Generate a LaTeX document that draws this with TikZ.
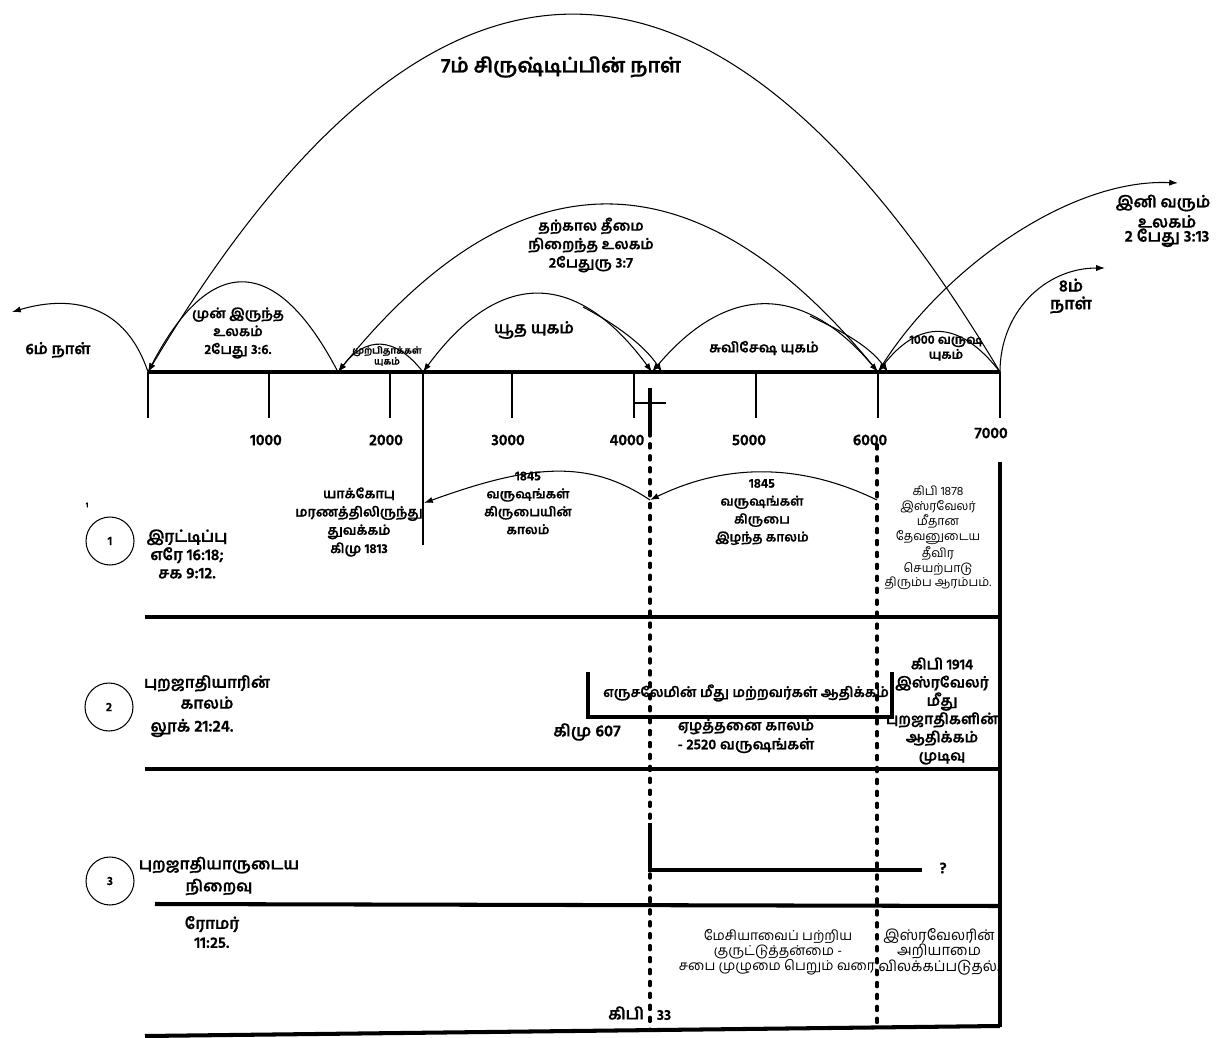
\documentclass[tikz,border=0pt]{standalone}
\usepackage{fontspec}
\setmainfont[Script=Tamil, BoldFeatures={FakeBold=0.6}]{Hind Madurai}
\usetikzlibrary{arrows.meta}
\newcommand{\tsz}[2]{\bfseries\fontsize{#1}{#2}\selectfont}
\newcommand{\rsz}[2]{\mdseries\fontsize{#1}{#2}\selectfont}

\begin{document}
\begin{tikzpicture}[x=0.02cm, y=-0.02cm, line width=0.6pt,
  every node/.style={inner sep=0pt, align=center, font=\tsz{8}{10.2}},
  hump/.style={-{Latex[length=5pt,width=3.5pt]}},
  humpback/.style={{Latex[length=5pt,width=3.5pt]}-},
  humpboth/.style={{Latex[length=5pt,width=3.5pt]}-{Latex[length=5pt,width=3.5pt]}},
  rule/.style={line width=2.3pt},
  dots/.style={line width=2.1pt, line cap=round, dash pattern=on 2.2pt off 4.6pt},
  num/.style={circle, draw, line width=0.6pt, minimum size=0.96cm, font=\tsz{7}{8}}]

\useasboundingbox (0,0) rectangle (1225,1038);

% time axis
\foreach \n/\x in {0/148,1/269,2/390,3/512,4/634,5/756,6/878,7/1000}
  \coordinate (t\n) at (\x,372);
\coordinate (flood) at (338,372);
\coordinate (jtop) at (423,372);
\coordinate (jbot) at (423,545);
\coordinate (jmid) at (424,503);
\coordinate (cx) at (652,372);
\coordinate (cx2) at (662,372);
\coordinate (g2) at (888,372);
\coordinate (jsplit) at (583,307);
\coordinate (gsplit) at (810,316);
\coordinate (six) at (12,312);
\coordinate (fut) at (1178,183);
\coordinate (eight) at (1105,268);

\foreach \n in {0,...,7}
  \draw (t\n) -- ++(0,46);
\draw (jtop) -- (jbot);
\draw[rule] (t0) -- (t7);

\foreach \n/\x/\y in {1/266/440,2/386/440,3/508/440,4/627/440,5/749/440,6/870/440,7/991/433}
  \node[font=\tsz{9}{10}] (y\n) at (\x,\y) {\n000};

% arcs over the axis
\draw[hump] (t7) .. controls +(-284,-476) and +(284,-476) .. (t0);
\draw[hump] (flood) .. controls +(-62,-119) and +(62,-119) .. (t0);
\draw[hump] (jtop) .. controls +(-28,-36) and +(28,-36) .. (flood);
\draw[hump] (t6) .. controls +(-180,-223) and +(180,-223) .. (flood);
\draw[humpboth] (cx) .. controls +(-76,-103) and +(76,-103) .. (jtop);
\draw[hump] (jsplit) .. controls +(25,13) and +(-20,-30) .. (cx2);
\draw[humpboth] (t6) .. controls +(-75,-89) and +(75,-89) .. (cx);
\draw[hump] (gsplit) .. controls +(25,12) and +(-20,-28) .. (g2);
\draw[hump] (t7) .. controls +(-41,-53) and +(41,-53) .. (t6);
\draw[hump] (t6) .. controls +(60,-100) and +(-110,-5) .. (fut);
\draw[hump] (t7) .. controls +(0,-60) and +(-60,0) .. (eight);
\draw[hump] (t0) .. controls +(-25,-75) and +(50,-15) .. (six);

\node[font=\tsz{11.5}{13}] (title) at (561,67) {7ம் சிருஷ்டிப்பின் நாள்};
\node[font=\tsz{8.2}{10.5}] (nowworld) at (591,245) {தற்கால தீமை\\நிறைந்த உலகம்\\2பேதுரு 3:7};
\node[font=\tsz{7.8}{10.2}] (oldworld) at (238,333) {முன் இருந்த\\உலகம்\\2பேது 3:6.};
\node[font=\tsz{8.8}{10}] (sixth) at (58,350) {6ம் நாள்};
\node[font=\tsz{5.4}{6.2}] (patri) at (387,356) {முற்பிதாக்கள்\\யுகம்};
\node[font=\tsz{9}{11}] (jewish) at (534,330) {யூத யுகம்};
\node (gospel) at (764,348) {சுவிசேஷ யுகம்};
\node[font=\tsz{7.2}{8.5}] (millen) at (946,348) {1000 வருஷ\\யுகம்};
\node[font=\tsz{9}{10}] (newworld) at (1163,203) {இனி வரும்};
\node[font=\tsz{9.2}{8}] (newref) at (1167,231) {உலகம்\\2 பேது 3:13};
\node[font=\tsz{9.5}{10.2}] (eighth) at (1071,296) {8ம்\\நாள்};

% cross and the two dotted marks
\coordinate (crtop) at (650,388);
\coordinate (crbot) at (650,432);
\coordinate (crl) at (634,403);
\coordinate (crr) at (666,403);
\coordinate (d1) at (650,1030);
\coordinate (d2top) at (877,445);
\coordinate (d2) at (877,1030);
\draw[line width=1.8pt] (crtop) -- (crbot);
\draw[line width=1.4pt] (crl) -- (crr);
\draw[dots] (crbot) -- (d1);
\draw[dots] (d2top) -- (d2);

% rows
\coordinate (r1l) at (145,617);  \coordinate (r1r) at (1000,617);
\coordinate (r2l) at (145,769);  \coordinate (r2r) at (1000,769);
\coordinate (r3l) at (155,904);  \coordinate (r3r) at (1000,906);
\coordinate (r4l) at (145,1036); \coordinate (r4r) at (1000,1026);
\coordinate (edge) at (1000,462);
\draw[rule] (r1l) -- (r1r);
\draw[rule] (r2l) -- (r2r);
\draw[rule] (r3l) -- (r3r);
\draw[rule] (r4l) -- (r4r);
\draw[rule] (edge) -- (1000,1027);

% row 1
\coordinate (g1) at (650,500);
\coordinate (g1878) at (877,500);
\draw[hump] (g1) .. controls +(-60,-40) and +(110,-40) .. (jmid);
\draw[humpback] (g1) .. controls +(76,-37) and +(-76,-37) .. (g1878);
\node[font=\tsz{4}{5}] (one) at (87,505) {1};
\node[num] (c1) at (110,541) {1};
\node[font=\tsz{9}{10.4}] (double) at (187,554) {இரட்டிப்பு\\எரே 16:18;\\சக 9:12.};
\node[font=\tsz{7.6}{10.4}] (jacob) at (359,522) {யாக்கோபு\\மரணத்திலிருந்து\\துவக்கம்\\கிமு 1813};
\node[font=\tsz{7.3}{10.2}] (grace) at (528,503) {{\tsz{7.5}{10.2}1845}\\வருஷங்கள்\\கிருபையின்\\காலம்};
\node[font=\tsz{7.3}{10.2}] (nograce) at (762,512) {{\tsz{7.5}{10.2}1845}\\வருஷங்கள்\\கிருபை\\இழந்த காலம்};
\node[font=\rsz{7}{8.5}] (y1878) at (938,538) {கிபி 1878\\இஸ்ரவேலர்\\மீதான\\தேவனுடைய\\தீவிர\\செயற்பாடு\\திரும்ப ஆரம்பம்.};

% row 2
\coordinate (b1) at (588,672);
\coordinate (b2) at (892,672);
\draw[line width=1.8pt] (b1) |- (892,717) -- (b2);
\node[num] (c2) at (109,707) {2};
\node[font=\tsz{9}{11.9}] (gentiles) at (207,692) {புறஜாதியாரின்\\காலம்};
\node[font=\tsz{9.3}{10}] (luke) at (192,728) {லூக் 21:24.};
\node[font=\tsz{7.9}{9}] (jerus) at (746,693) {எருசலேமின் மீது மற்றவர்கள் ஆதிக்கம்};
\node[font=\tsz{9.3}{10}] (bc607) at (587,732) {கிமு 607};
\node[font=\tsz{8.3}{10.8}] (seven) at (746,736) {ஏழத்தனை காலம்\\- 2520 வருஷங்கள்};
\node[font=\tsz{8.4}{10.4}] (y1914) at (942,711) {கிபி 1914\\இஸ்ரவேலர்\\மீது\\புறஜாதிகளின்\\ஆதிக்கம்\\முடிவு};

% row 3
\coordinate (l1) at (650,823);
\coordinate (l2) at (922,870);
\draw[line width=1.8pt] (l1) |- (l2);
\node[font=\tsz{9}{10}] (question) at (943,868) {?};
\node[num] (c3) at (110,881) {3};
\node[font=\tsz{9}{12.5}] (fullness) at (219,876) {புறஜாதியாருடைய\\நிறைவு};
\node[font=\tsz{9}{10.8}] (romans) at (212,932) {ரோமர்\\11:25.};
\node[font=\rsz{7.8}{8.5}] (blind) at (778,952) {மேசியாவைப் பற்றிய\\குருட்டுத்தன்மை -\\சபை முழுமை பெறும் வரை.};
\node[font=\rsz{8.4}{8.5}] (ignor) at (939,952) {இஸ்ரவேலரின்\\அறியாமை\\விலக்கப்படுதல்.};
\node[font=\tsz{9.3}{10}] (ad) at (626,1013) {கிபி};
\node[font=\tsz{8.5}{10}] (ad33) at (664,1015) {33};
\end{tikzpicture}
\end{document}
